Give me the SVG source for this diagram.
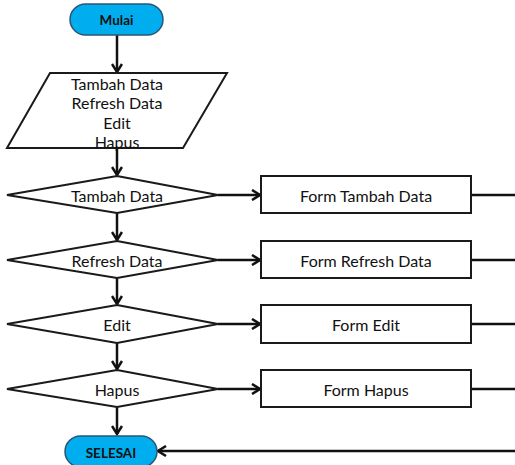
<svg xmlns="http://www.w3.org/2000/svg" width="515" height="465" viewBox="0 0 515 465">
<defs>
<style>
.t{font-family:Lato,"Liberation Sans",sans-serif;font-size:16px;fill:#111;text-anchor:middle;dominant-baseline:central}
.tb{font-family:Lato,"Liberation Sans",sans-serif;font-size:13.5px;font-weight:bold;fill:#111;text-anchor:middle;dominant-baseline:central}
.term{fill:#00AEEF;stroke:#2a5573;stroke-width:1.5}
.n{fill:#fff;stroke:#1a1a1a;stroke-width:2}
.c{fill:none;stroke:#111;stroke-width:2.5}
</style>
<marker id="a" viewBox="0 0 12 12" refX="10" refY="6" markerWidth="12" markerHeight="12" markerUnits="userSpaceOnUse" orient="auto">
<path d="M2,1 L10,6 L2,11" fill="none" stroke="#111" stroke-width="2.5"/>
</marker>
</defs>
<rect width="515" height="465" fill="#fff"/>
<g id="connectors">
<line class="c" x1="117" y1="35" x2="117" y2="72" marker-end="url(#a)"/>
<line class="c" x1="117" y1="148" x2="117" y2="175" marker-end="url(#a)"/>
<line class="c" x1="117" y1="213" x2="117" y2="240" marker-end="url(#a)"/>
<line class="c" x1="117" y1="278" x2="117" y2="304" marker-end="url(#a)"/>
<line class="c" x1="117" y1="343" x2="117" y2="369" marker-end="url(#a)"/>
<line class="c" x1="117" y1="407" x2="117" y2="434" marker-end="url(#a)"/>
<line class="c" x1="218" y1="195" x2="260" y2="195" marker-end="url(#a)"/>
<line class="c" x1="218" y1="260" x2="260" y2="260" marker-end="url(#a)"/>
<line class="c" x1="218" y1="324" x2="260" y2="324" marker-end="url(#a)"/>
<line class="c" x1="218" y1="389" x2="260" y2="389" marker-end="url(#a)"/>
<path class="c" d="M471,195 H518 V451"/>
<path class="c" d="M471,260 H518"/>
<path class="c" d="M471,324 H518"/>
<path class="c" d="M471,389 H518"/>
<path class="c" d="M518,451 H158" marker-end="url(#a)"/>
</g>
<g id="mulai">
<rect class="term" x="70" y="4" width="93" height="31" rx="15.5"/>
<text class="tb" x="116.5" y="20">Mulai</text>
</g>
<g id="input">
<polygon class="n" points="50,73 227,73 183,148 7,148"/>
<text class="t" x="117" y="83">Tambah Data</text>
<text class="t" x="117" y="102">Refresh Data</text>
<text class="t" x="117" y="122">Edit</text>
<text class="t" x="117" y="141">Hapus</text>
</g>
<g id="d1">
<polygon class="n" points="117,176 218,195 117,213 7,195"/>
<text class="t" x="117" y="195">Tambah Data</text>
</g>
<g id="d2">
<polygon class="n" points="117,241 218,260 117,278 7,260"/>
<text class="t" x="117" y="260">Refresh Data</text>
</g>
<g id="d3">
<polygon class="n" points="117,305 218,324 117,343 7,324"/>
<text class="t" x="117" y="324">Edit</text>
</g>
<g id="d4">
<polygon class="n" points="117,370 218,389 117,407 7,389"/>
<text class="t" x="117" y="389">Hapus</text>
</g>
<g id="f1">
<rect class="n" x="261" y="176" width="210" height="37"/>
<text class="t" x="366" y="195">Form Tambah Data</text>
</g>
<g id="f2">
<rect class="n" x="261" y="241" width="210" height="37"/>
<text class="t" x="366" y="260">Form Refresh Data</text>
</g>
<g id="f3">
<rect class="n" x="261" y="305" width="210" height="38"/>
<text class="t" x="366" y="324">Form Edit</text>
</g>
<g id="f4">
<rect class="n" x="261" y="370" width="210" height="37"/>
<text class="t" x="366" y="389">Form Hapus</text>
</g>
<g id="selesai">
<rect class="term" x="65" y="436" width="92" height="31" rx="15.5"/>
<text class="tb" x="111" y="453">SELESAI</text>
</g>
</svg>
